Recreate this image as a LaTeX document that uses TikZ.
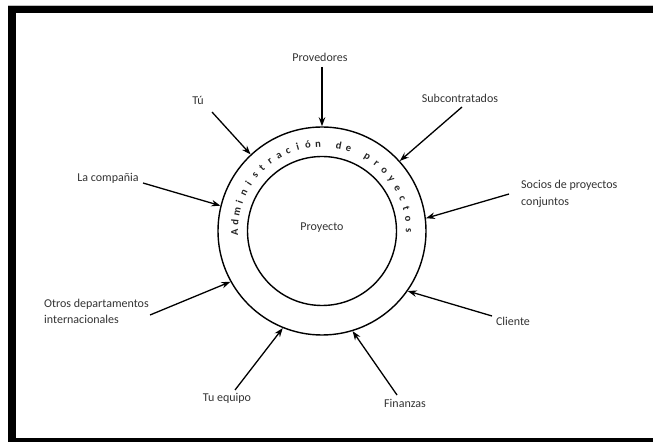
\documentclass[tikz,border=0pt]{standalone}
\usepackage{fontspec}
\setmainfont{Carlito}
\usetikzlibrary{arrows.meta,calc}

\begin{document}
\begin{tikzpicture}[x=1pt,y=1pt,
  label/.style={text=black!80, font=\fontsize{12}{16.5}\selectfont, inner sep=0pt},
  multi/.style={label, align=left},
  feed/.style={line width=1.3pt, -{Stealth[length=9pt,width=6.5pt]}},
  ringchar/.style={text=black!85, font=\fontsize{10.5}{11}\selectfont\bfseries, inner sep=0pt, anchor=base}]
  \useasboundingbox (0,0) rectangle (653,442);
  \fill[white] (0,0) rectangle (653,442);

  % frame
  \fill[black!25] (8,436) rectangle (653,437);
  \fill[black] (8,429) rectangle (653,436);
  \fill[black] (8,0) rectangle (16,436);
  \fill[black] (8,0) rectangle (653,4.5);

  % rings
  \node[draw, circle, line width=1.4pt, minimum size=208pt, inner sep=0pt] (ring) at (322,211) {};
  \node[draw, circle, line width=1.4pt, minimum size=149pt, inner sep=0pt] (core) at (322,211) {};
  \node[label] (proj) at (322,214) {Proyecto};

  % lettering around the ring
  \foreach \ch [count=\i from 0] in {A,d,m,i,n,i,s,t,r,a,c,i,ó,n,{},d,e,{},p,r,o,y,e,c,t,o,s}{
    \pgfmathsetmacro\ang{\i<=18 ? 181-6.8*\i : 58.6-7.25*(\i-18)}
    \path (ring.center) ++(\ang:84) node[ringchar, rotate=\ang-90] {\ch};
  }

  % stakeholders
  \node[label] (prov) at (320,385) {Provedores};
  \node[label] (tu) at (198,342) {Tú};
  \node[label] (sub) at (460,344) {Subcontratados};
  \node[label] (comp) at (108,264) {La compañia};
  \node[multi, anchor=west] (soc) at (521,248) {Socios de proyectos\\conjuntos};
  \node[multi, anchor=west] (otros) at (44,130.5) {Otros departamentos\\internacionales};
  \node[label] (cli) at (513,121) {Cliente};
  \node[label] (fin) at (405,39) {Finanzas};
  \node[label] (equipo) at (227,44) {Tu equipo};

  % arrow tails
  \coordinate (provT) at (322,375);
  \coordinate (tuT) at (212,330);
  \coordinate (subT) at (462,335);
  \coordinate (compT) at (143,259);
  \coordinate (socT) at (509,248);
  \coordinate (otrosT) at (150,127);
  \coordinate (cliT) at (492,126);
  \coordinate (finT) at (397,47);
  \coordinate (equipoT) at (235,52);

  \draw[feed] (provT) -- (ring.90);
  \draw[feed] (tuT) -- (ring.133.5);
  \draw[feed] (subT) -- (ring.42.8);
  \draw[feed] (compT) -- (ring.166.6);
  \draw[feed] (socT) -- (ring.7.5);
  \draw[feed] (otrosT) -- (ring.209);
  \draw[feed] (cliT) -- (ring.325.7);
  \draw[feed] (finT) -- (ring.287);
  \draw[feed] (equipoT) -- (ring.248.5);
\end{tikzpicture}
\end{document}
